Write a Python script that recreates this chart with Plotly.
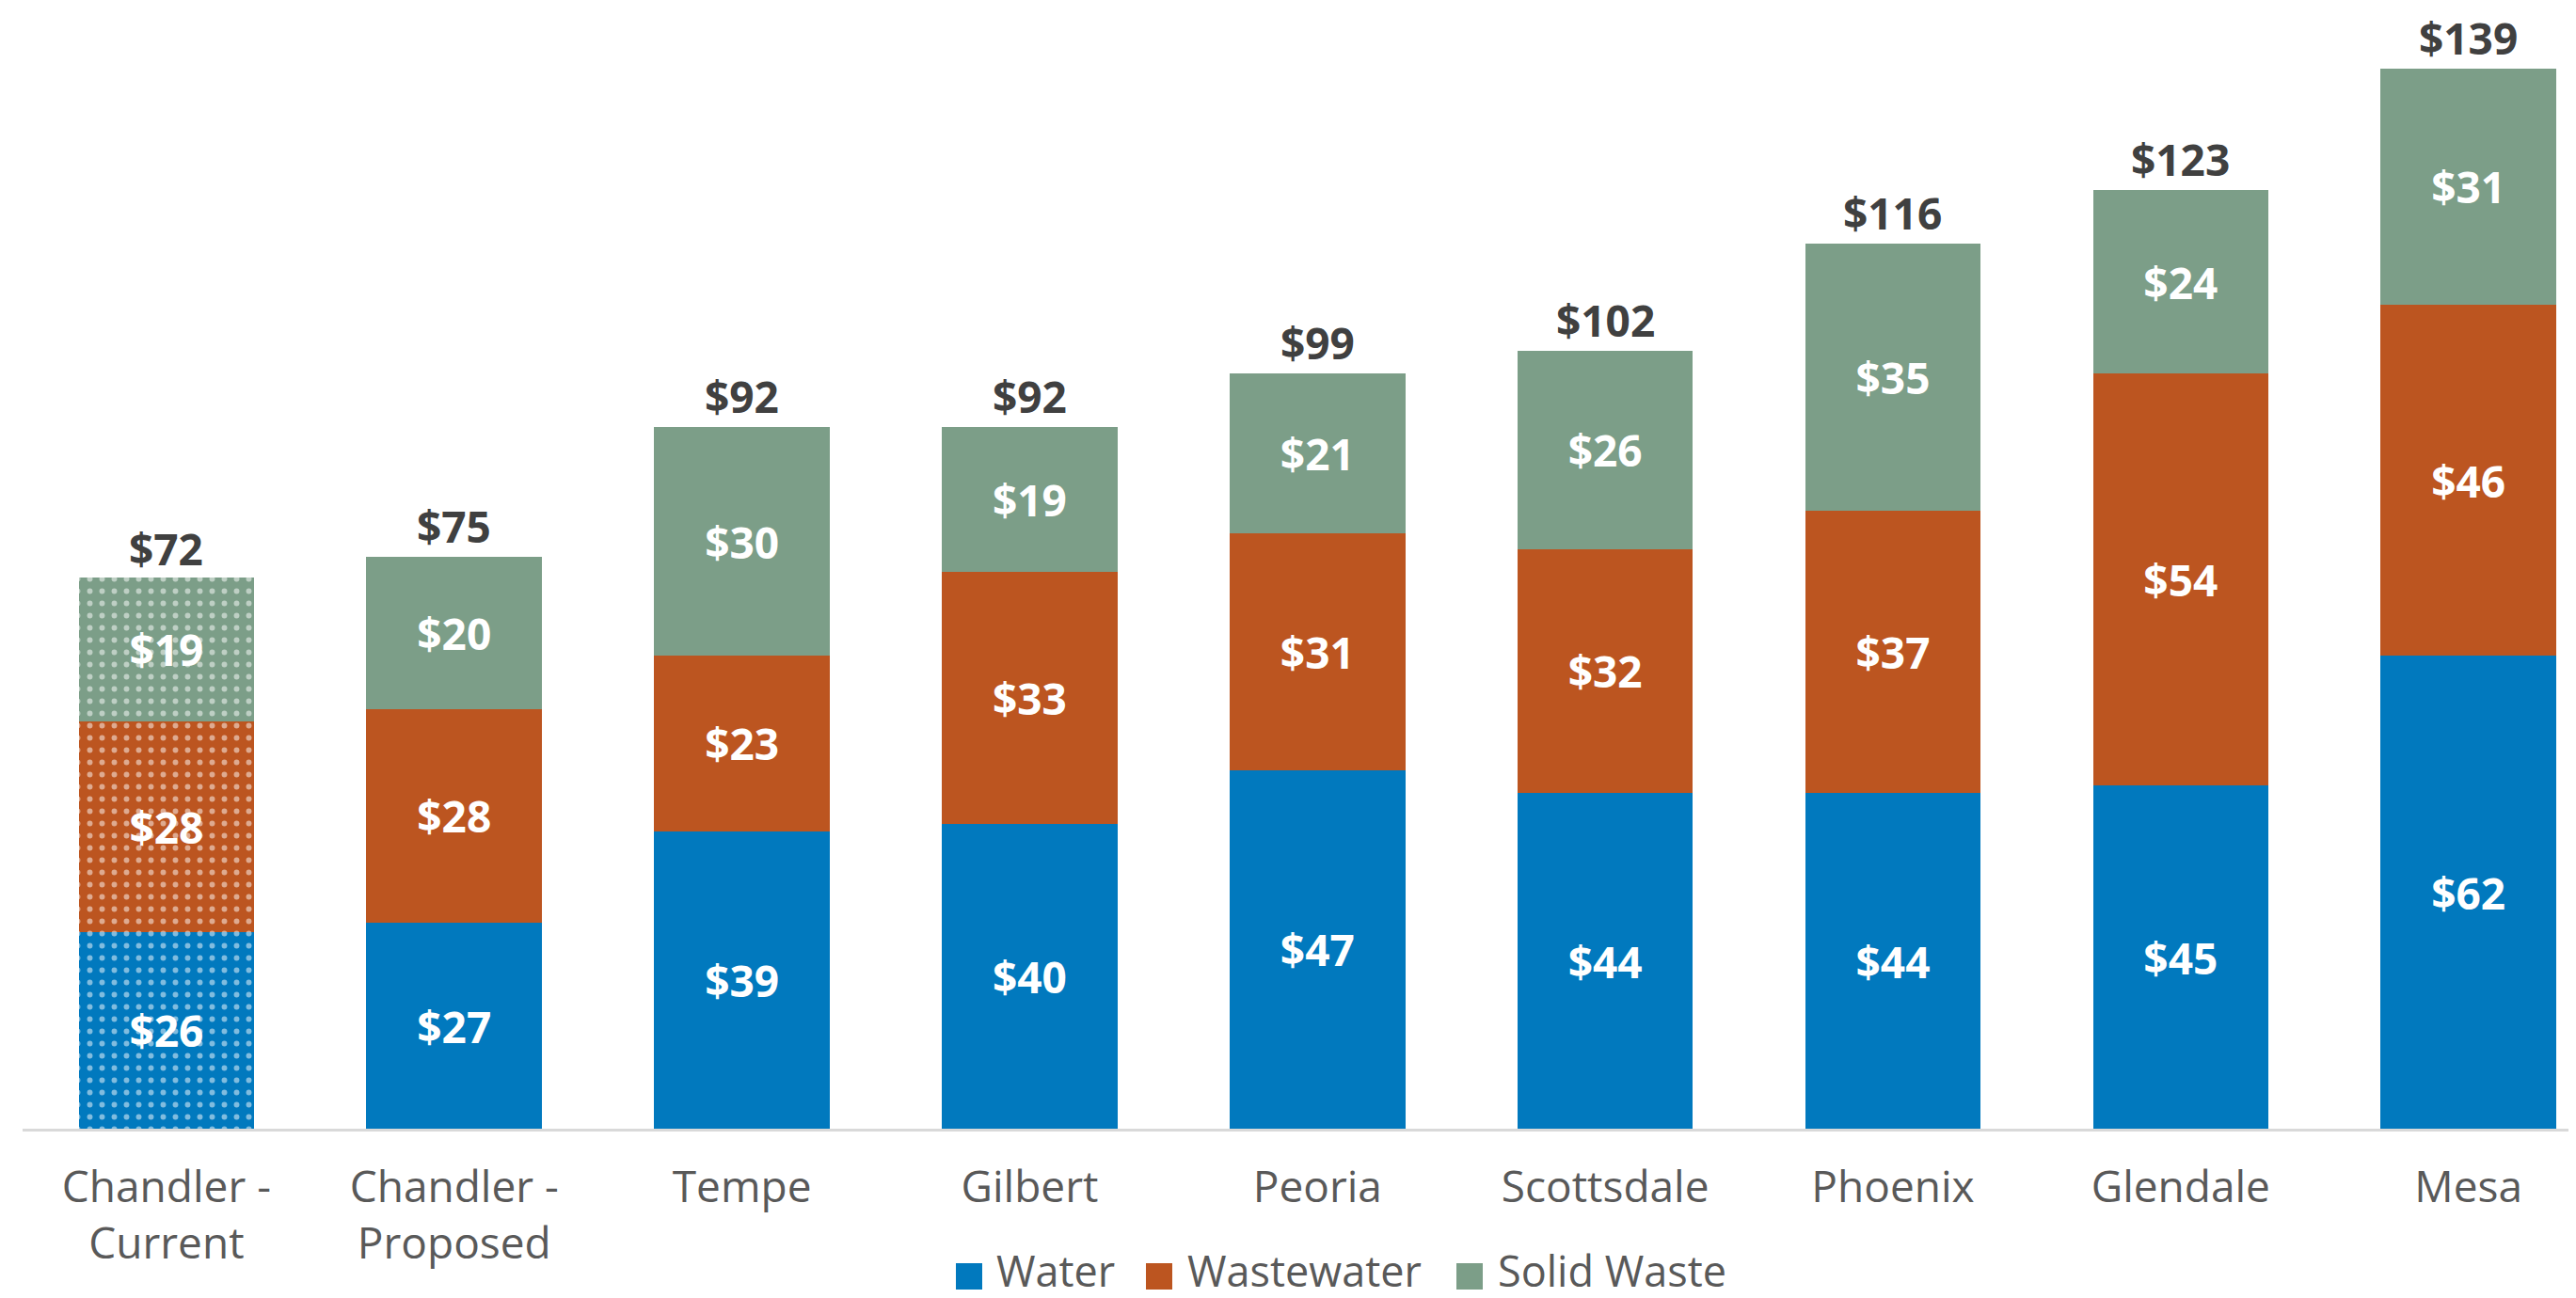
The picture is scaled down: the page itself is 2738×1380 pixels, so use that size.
import plotly.graph_objects as go

categories = ["Chandler -<br>Current", "Chandler -<br>Proposed", "Tempe", "Gilbert", "Peoria",
              "Scottsdale", "Phoenix", "Glendale", "Mesa"]
water = [25.8, 27, 39, 40, 47, 44, 44, 45, 62]
wastewater = [27.6, 28, 23, 33, 31, 32, 37, 54, 46]
solid_waste = [18.9, 20, 30, 19, 21, 26, 35, 24, 31]
totals = [72, 75, 92, 92, 99, 102, 116, 123, 139]

series_names = ["Water", "Wastewater", "Solid Waste"]
series_colors = ["#0179BE", "#BC5520", "#7C9E88"]
series_values = [water, wastewater, solid_waste]

FONT = "Open Sans"
W, H = 2738, 1380
ML, MR, MT, MB = 16, 0, 16, 188
PW, PH = W - ML - MR, H - MT - MB


def px_x(px):
    return (px - ML) / PW


def px_y(py):
    return (H - MB - py) / PH


fig = go.Figure()

for name, vals, color in zip(series_names, series_values, series_colors):
    common = dict(
        name=name, legendgroup=name, showlegend=False,
        texttemplate="$%{y:.0f}", textposition="inside", insidetextanchor="middle",
        textangle=0, constraintext="none",
        textfont=dict(family=FONT, size=46, color="white", weight="bold"),
        hoverinfo="skip",
    )
    # patterned (current) bar
    fig.add_trace(go.Bar(
        x=categories[:1], y=vals[:1],
        marker=dict(color=color, line=dict(width=0),
                    pattern=dict(shape=".", fgcolor="white", bgcolor=color,
                                 size=13, solidity=0.16, fillmode="overlay")),
        **common,
    ))
    fig.add_trace(go.Bar(
        x=categories[1:], y=vals[1:],
        marker=dict(color=color, line=dict(width=0)),
        **common,
    ))

annotations = []
# totals above bars
for cat, tot in zip(categories, totals):
    annotations.append(dict(text="$" + str(tot), x=cat, y=tot, xref="x", yref="y",
                            xanchor="center", yanchor="bottom", yshift=0, showarrow=False,
                            font=dict(family=FONT, size=46, color="#404040", weight="bold")))

# custom legend (large square swatches)
legend_sq_px = [1008, 1210, 1540]
legend_tx_px = [1049, 1252, 1582]
shapes = []
for name, color, sx, tx in zip(series_names, series_colors, legend_sq_px, legend_tx_px):
    shapes.append(dict(type="rect", xref="paper", yref="paper",
                       x0=px_x(sx), x1=px_x(sx + 28), y0=px_y(1363), y1=px_y(1335),
                       fillcolor=color, line=dict(width=0)))
    annotations.append(dict(text=name, xref="paper", yref="paper", x=px_x(tx), y=px_y(1375),
                            xanchor="left", yanchor="bottom", showarrow=False,
                            font=dict(family=FONT, size=45, color="#595959")))

fig.update_layout(
    width=W, height=H,
    barmode="stack", bargap=0.39,
    plot_bgcolor="white", paper_bgcolor="white",
    margin=dict(l=ML, r=MR, t=MT, b=MB),
    font=dict(family=FONT, color="#595959", size=46),
    xaxis=dict(range=[-0.5, 8.4], showline=True, linecolor="#D9D9D9", linewidth=3,
               ticks="", tickfont=dict(family=FONT, size=46, color="#595959"),
               ticklabelstandoff=20,
               showgrid=False, zeroline=False, fixedrange=True, automargin=False),
    yaxis=dict(range=[0, 145], visible=False, showgrid=False, zeroline=False),
    showlegend=False,
    shapes=shapes, annotations=annotations,
)

fig.write_html("out.html")
